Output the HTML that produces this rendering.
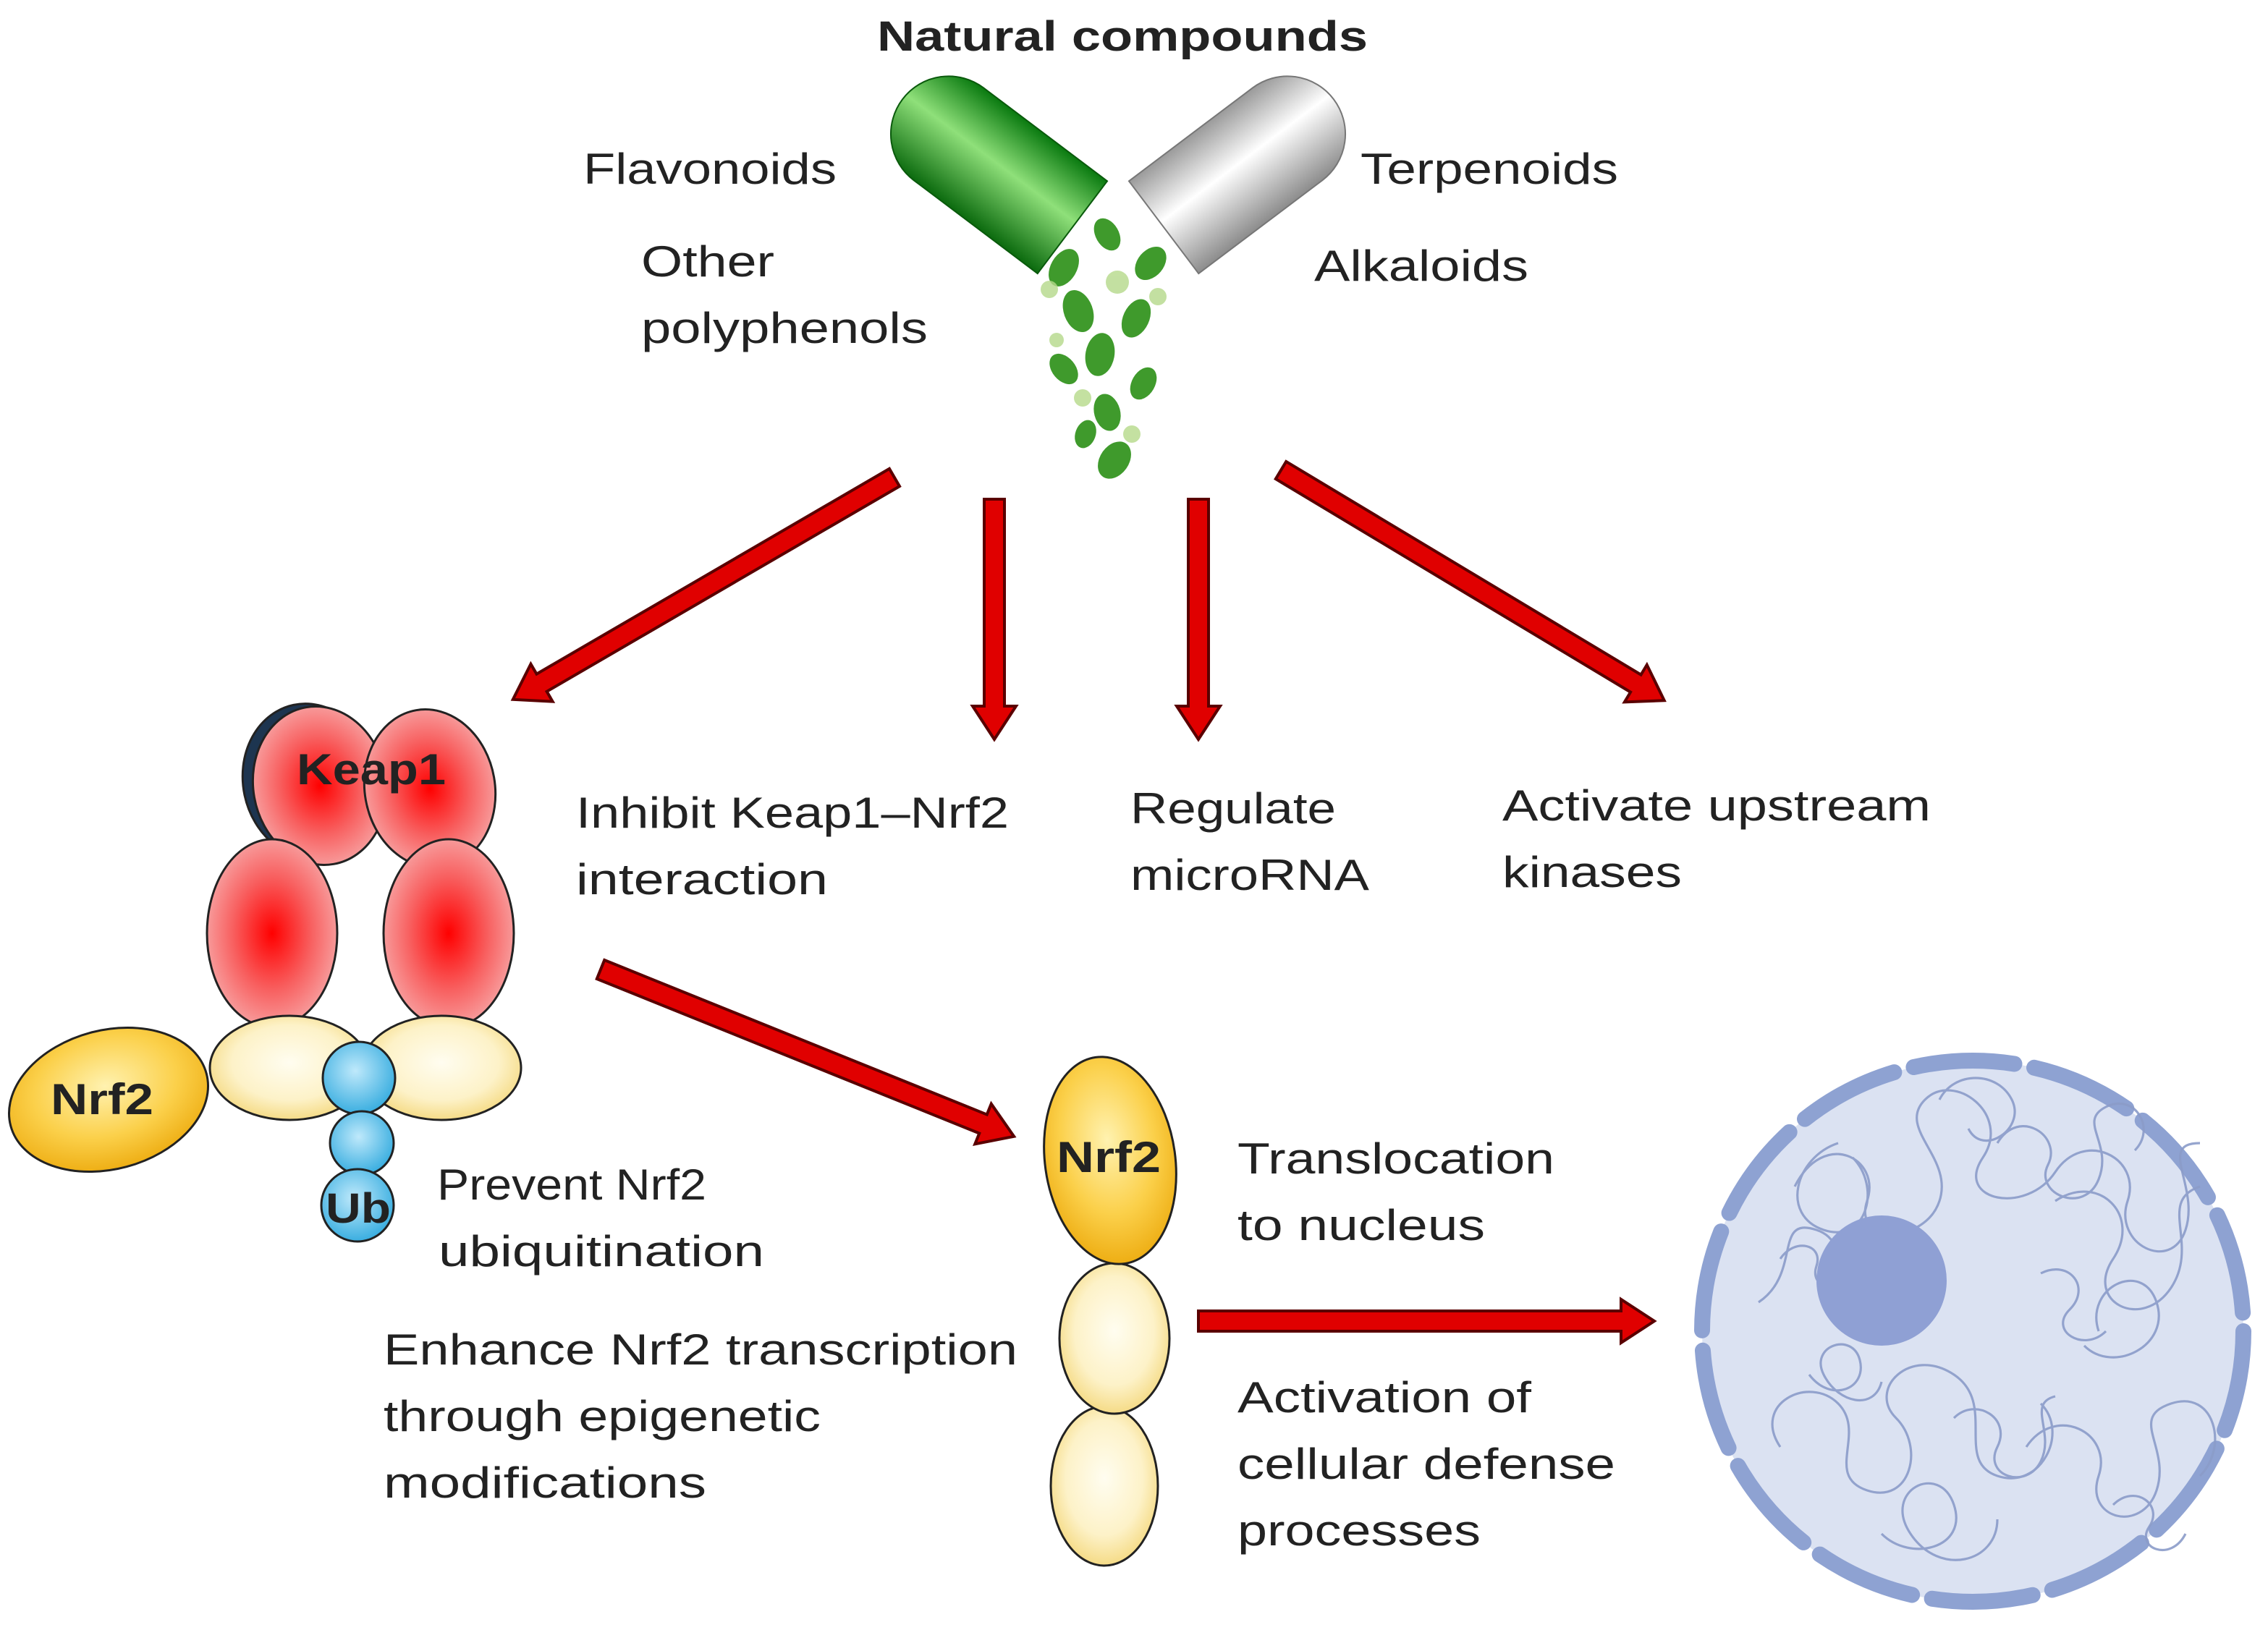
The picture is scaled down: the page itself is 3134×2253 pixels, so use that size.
<!DOCTYPE html>
<html><head><meta charset="utf-8"><style>
html,body{margin:0;padding:0;background:#fff}
svg{display:block}
text{font-family:"Liberation Sans","DejaVu Sans",sans-serif;fill:#222}
</style></head><body>
<svg width="3134" height="2253" viewBox="0 0 1567 1126.5" xmlns="http://www.w3.org/2000/svg">
<defs>
<radialGradient id="red" cx="50%" cy="50%" r="55%"><stop offset="0" stop-color="#ff0000"/><stop offset="0.55" stop-color="#f86060"/><stop offset="1" stop-color="#f7a8a8"/></radialGradient>
<radialGradient id="yel" cx="50%" cy="45%" r="60%"><stop offset="0" stop-color="#fffdf0"/><stop offset="0.6" stop-color="#fdf2c8"/><stop offset="1" stop-color="#f3d575"/></radialGradient>
<radialGradient id="org" cx="50%" cy="40%" r="60%"><stop offset="0" stop-color="#fff2b0"/><stop offset="0.6" stop-color="#fbd04a"/><stop offset="1" stop-color="#eeae14"/></radialGradient>
<radialGradient id="blue" cx="45%" cy="40%" r="60%"><stop offset="0" stop-color="#bfe9fb"/><stop offset="1" stop-color="#3aaee0"/></radialGradient>
<linearGradient id="gc" x1="0" y1="0" x2="0" y2="1"><stop offset="0" stop-color="#0a7a10"/><stop offset="0.45" stop-color="#8fe07a"/><stop offset="1" stop-color="#0b6a0e"/></linearGradient>
<linearGradient id="wc" x1="0" y1="0" x2="0" y2="1"><stop offset="0" stop-color="#9a9a9a"/><stop offset="0.45" stop-color="#ffffff"/><stop offset="1" stop-color="#8c8c8c"/></linearGradient>
</defs>

<text x="606" y="35" font-size="29" font-weight="bold" fill="#111" textLength="339" lengthAdjust="spacingAndGlyphs">Natural compounds</text>
<g font-size="30">
<text x="403" y="127" textLength="175" lengthAdjust="spacingAndGlyphs">Flavonoids</text>
<text x="443" y="191" textLength="92" lengthAdjust="spacingAndGlyphs">Other</text>
<text x="443" y="237" textLength="198" lengthAdjust="spacingAndGlyphs">polyphenols</text>
<text x="940" y="127" textLength="178" lengthAdjust="spacingAndGlyphs">Terpenoids</text>
<text x="908" y="194" textLength="148" lengthAdjust="spacingAndGlyphs">Alkaloids</text>
</g>

<g transform="translate(705,130) rotate(37)">
<path d="M-62,-40 L45,-40 L45,40 L-62,40 A40,40 0 0 1 -62,-40 Z" fill="url(#gc)" stroke="#0a5a0c" stroke-width="1"/>
</g>
<g transform="translate(840,130) rotate(-37)">
<path d="M62,-40 L-45,-40 L-45,40 L62,40 A40,40 0 0 0 62,-40 Z" fill="url(#wc)" stroke="#777" stroke-width="1"/>
</g>
<g fill="#3f9a2c">
<ellipse cx="735" cy="185" rx="9" ry="14" transform="rotate(30 735 185)"/>
<ellipse cx="765" cy="162" rx="8" ry="12" transform="rotate(-30 765 162)"/>
<ellipse cx="795" cy="182" rx="9" ry="13" transform="rotate(40 795 182)"/>
<ellipse cx="745" cy="215" rx="10" ry="15" transform="rotate(-20 745 215)"/>
<ellipse cx="785" cy="220" rx="9" ry="14" transform="rotate(25 785 220)"/>
<ellipse cx="760" cy="245" rx="10" ry="15" transform="rotate(10 760 245)"/>
<ellipse cx="735" cy="255" rx="8" ry="12" transform="rotate(-40 735 255)"/>
<ellipse cx="790" cy="265" rx="8" ry="12" transform="rotate(30 790 265)"/>
<ellipse cx="765" cy="285" rx="9" ry="13" transform="rotate(-15 765 285)"/>
<ellipse cx="770" cy="318" rx="10" ry="14" transform="rotate(35 770 318)"/>
<ellipse cx="750" cy="300" rx="7" ry="10" transform="rotate(20 750 300)"/>
</g>
<g fill="#b5d98a" opacity="0.8">
<circle cx="725" cy="200" r="6"/><circle cx="800" cy="205" r="6"/><circle cx="772" cy="195" r="8"/><circle cx="748" cy="275" r="6"/><circle cx="782" cy="300" r="6"/><circle cx="730" cy="235" r="5"/>
</g>

<g fill="#e00000" stroke="#5a0000" stroke-width="2">
<path transform="translate(618,330) rotate(149.8)" d="M0,-7 L282,-7 L282,-15 L305,0 L282,15 L282,7 L0,7 Z"/>
<path transform="translate(687,345) rotate(90)" d="M0,-7 L143,-7 L143,-15 L166,0 L143,15 L143,7 L0,7 Z"/>
<path transform="translate(828,345) rotate(90)" d="M0,-7 L143,-7 L143,-15 L166,0 L143,15 L143,7 L0,7 Z"/>
<path transform="translate(885,325) rotate(31)" d="M0,-7 L286,-7 L286,-15 L309,0 L286,15 L286,7 L0,7 Z"/>
<path transform="translate(415,670) rotate(22)" d="M0,-7 L285,-7 L285,-15 L308,0 L285,15 L285,7 L0,7 Z"/>
<path transform="translate(828,913)" d="M0,-7 L292,-7 L292,-15 L315,0 L292,15 L292,7 L0,7 Z"/>
</g>

<g stroke="#222" stroke-width="1.5">
<ellipse cx="214" cy="540" rx="46" ry="54" fill="#1d3550" transform="rotate(-12 214 540)"/>
<ellipse cx="221" cy="543" rx="46" ry="55" fill="url(#red)" transform="rotate(-10 221 543)"/>
<ellipse cx="297" cy="545" rx="45" ry="55" fill="url(#red)" transform="rotate(-10 297 545)"/>
<ellipse cx="188" cy="645" rx="45" ry="65" fill="url(#red)"/>
<ellipse cx="310" cy="645" rx="45" ry="65" fill="url(#red)"/>
<ellipse cx="75" cy="760" rx="70" ry="48" fill="url(#org)" transform="rotate(-15 75 760)"/>
<ellipse cx="200" cy="738" rx="55" ry="36" fill="url(#yel)"/>
<ellipse cx="305" cy="738" rx="55" ry="36" fill="url(#yel)"/>
<circle cx="248" cy="745" r="25" fill="url(#blue)"/>
<circle cx="250" cy="790" r="22" fill="url(#blue)"/>
<circle cx="247" cy="833" r="25" fill="url(#blue)"/>
</g>
<text x="205" y="542" font-size="30" font-weight="bold" fill="#111" textLength="103" lengthAdjust="spacingAndGlyphs">Keap1</text>
<text x="35" y="770" font-size="30" font-weight="bold" fill="#111" textLength="71" lengthAdjust="spacingAndGlyphs">Nrf2</text>
<text x="225" y="845" font-size="29" font-weight="bold" fill="#111" textLength="45" lengthAdjust="spacingAndGlyphs">Ub</text>

<g stroke="#222" stroke-width="1.5">
<ellipse cx="763" cy="1027" rx="37" ry="55" fill="url(#yel)"/>
<ellipse cx="770" cy="925" rx="38" ry="52" fill="url(#yel)"/>
<ellipse cx="767" cy="802" rx="45" ry="72" fill="url(#org)" transform="rotate(-8 767 802)"/>
</g>
<text x="730" y="810" font-size="30" font-weight="bold" fill="#111" textLength="72" lengthAdjust="spacingAndGlyphs">Nrf2</text>

<g font-size="30">
<text x="398" y="572" textLength="299" lengthAdjust="spacingAndGlyphs">Inhibit Keap1–Nrf2</text>
<text x="398" y="618" textLength="174" lengthAdjust="spacingAndGlyphs">interaction</text>
<text x="781" y="569" textLength="142" lengthAdjust="spacingAndGlyphs">Regulate</text>
<text x="781" y="615" textLength="165" lengthAdjust="spacingAndGlyphs">microRNA</text>
<text x="1038" y="567" textLength="296" lengthAdjust="spacingAndGlyphs">Activate upstream</text>
<text x="1038" y="613" textLength="124" lengthAdjust="spacingAndGlyphs">kinases</text>
<text x="302" y="829" textLength="186" lengthAdjust="spacingAndGlyphs">Prevent Nrf2</text>
<text x="303" y="875" textLength="225" lengthAdjust="spacingAndGlyphs">ubiquitination</text>
<text x="265" y="943" textLength="438" lengthAdjust="spacingAndGlyphs">Enhance Nrf2 transcription</text>
<text x="265" y="989" textLength="302" lengthAdjust="spacingAndGlyphs">through epigenetic</text>
<text x="265" y="1035" textLength="223" lengthAdjust="spacingAndGlyphs">modifications</text>
<text x="855" y="811" textLength="219" lengthAdjust="spacingAndGlyphs">Translocation</text>
<text x="855" y="857" textLength="171" lengthAdjust="spacingAndGlyphs">to nucleus</text>
<text x="855" y="976" textLength="203" lengthAdjust="spacingAndGlyphs">Activation of</text>
<text x="855" y="1022" textLength="261" lengthAdjust="spacingAndGlyphs">cellular defense</text>
<text x="855" y="1068" textLength="168" lengthAdjust="spacingAndGlyphs">processes</text>
</g>

<circle cx="1363" cy="920" r="187" fill="#dbe2f2"/>
<circle cx="1363" cy="920" r="187" fill="none" stroke="#8ea2d2" stroke-width="11" stroke-dasharray="70 14" stroke-linecap="round"/>
<g fill="none" stroke="#8b9cc9" stroke-width="1.6" opacity="0.9">
<path d="M1240,820 c20,-40 60,-20 50,10 c-10,30 40,30 50,0 c10,-30 -30,-50 -10,-70 c20,-20 60,10 40,40 c-20,30 30,40 50,10 c20,-30 60,-10 50,20 c-10,30 30,50 40,20 c10,-30 -20,-60 10,-60"/>
<path d="M1215,900 c30,-20 10,-60 40,-50 c30,10 0,50 30,60 c30,10 20,-40 0,-50"/>
<path d="M1230,1000 c-20,-30 20,-50 40,-30 c20,20 -10,50 20,60 c30,10 40,-30 20,-50 c-20,-20 10,-50 40,-30 c30,20 0,60 30,70 c30,10 50,-30 30,-50"/>
<path d="M1400,1000 c20,-30 60,-10 50,20 c-10,30 30,40 40,10 c10,-30 -20,-50 10,-60 c30,-10 40,30 20,50"/>
<path d="M1420,830 c30,-20 60,10 40,40 c-20,30 20,50 40,20 c20,-30 -10,-60 20,-70"/>
<path d="M1270,790 c-30,10 -40,50 -10,60 c30,10 40,-30 20,-50"/>
<path d="M1440,930 c20,20 60,0 50,-30 c-10,-30 -50,-10 -40,20"/>
<path d="M1300,1060 c20,20 60,10 50,-20 c-10,-30 -50,-10 -30,20 c20,30 60,20 60,-10"/>
<path d="M1340,760 c10,-20 40,-20 50,0 c10,20 -20,40 -30,20"/>
<path d="M1380,790 c15,-25 45,-5 35,15 c-10,20 25,35 35,10 c10,-25 -15,-40 5,-50 c20,-10 35,15 20,30"/>
<path d="M1250,950 c15,20 40,10 35,-10 c-5,-20 -35,-10 -25,10 c10,20 35,25 40,5"/>
<path d="M1350,980 c15,-15 40,0 30,20 c-10,20 20,30 30,10 c10,-20 -10,-40 10,-45"/>
<path d="M1460,1040 c15,-15 35,0 25,15 c-10,15 15,25 25,5"/>
<path d="M1410,880 c20,-10 35,10 20,25 c-15,15 10,30 25,15"/>
<path d="M1230,870 c10,-15 30,-10 25,5 c-5,15 15,20 20,5"/>
</g>
<circle cx="1300" cy="885" r="45" fill="#8fa0d4"/>
</svg>
</body></html>
